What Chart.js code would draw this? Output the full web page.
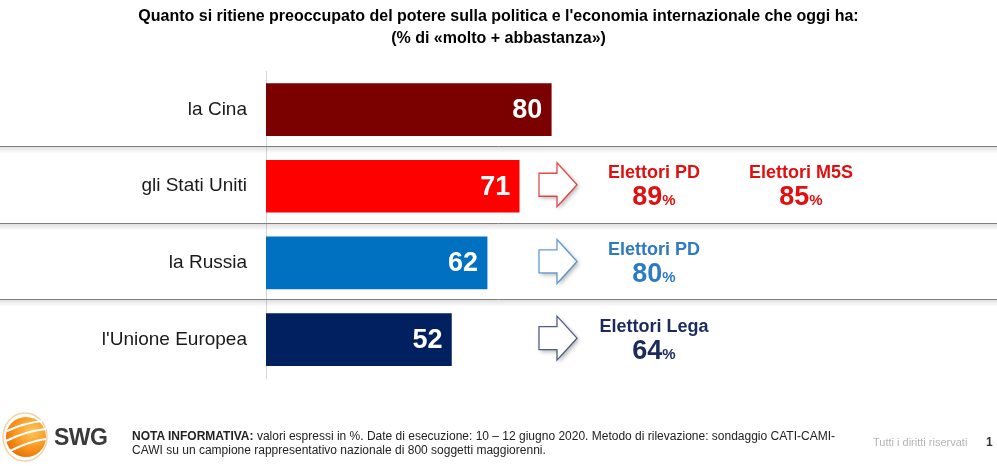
<!DOCTYPE html>
<html>
<head>
<meta charset="utf-8">
<script src="https://cdn.jsdelivr.net/npm/chart.js@4"></script>
<style>
  body { margin: 0; background: #fff; font-family: "Liberation Sans", Arial, sans-serif; }
  #wrap { position: relative; width: 997px; height: 466px; overflow: hidden; }
  #chart { position: absolute; left: 0; top: 0; }
  .note { position: absolute; left: 132px; top: 429px; font-size: 12px; line-height: 14px; color: #222; white-space: nowrap; }
  .rights { position: absolute; left: 873px; top: 436px; font-size: 11px; color: #b4b4b4; }
  .page { position: absolute; left: 986px; top: 435px; font-size: 12px; font-weight: bold; color: #333; }
  .swg { position: absolute; left: 54px; top: 424px; font-size: 23px; font-weight: bold; color: #3a3a3a; letter-spacing: -0.5px; }
  #logo { position: absolute; left: 2px; top: 411px; }
</style>
</head>
<body>
<div id="wrap">
  <canvas id="chart" width="997" height="466"></canvas>
  <svg id="logo" width="48" height="52" viewBox="0 0 48 52">
    <defs>
      <radialGradient id="g" cx="0.65" cy="0.35" r="0.75">
        <stop offset="0" stop-color="#ffc65a"/>
        <stop offset="0.6" stop-color="#f7941d"/>
        <stop offset="1" stop-color="#e86a00"/>
      </radialGradient>
    </defs>
    <ellipse cx="23" cy="26" rx="22" ry="24" fill="none" stroke="#f3d2a6" stroke-width="1.5"/>
    <circle cx="24" cy="26" r="20" fill="url(#g)"/>
    <path d="M5 20 Q22 12 40 10" stroke="#fff" stroke-width="2" fill="none"/>
    <path d="M4 30 Q24 20 44 18" stroke="#fff" stroke-width="2" fill="none"/>
    <path d="M8 40 Q28 30 44 28" stroke="#fff" stroke-width="2" fill="none"/>
  </svg>
  <div class="swg">SWG</div>
  <div class="note"><b>NOTA INFORMATIVA:</b> valori espressi in %. Date di esecuzione: 10 – 12 giugno 2020. Metodo di rilevazione: sondaggio CATI-CAMI-<br>CAWI su un campione rappresentativo nazionale di 800 soggetti maggiorenni.</div>
  <div class="rights">Tutti i diritti riservati</div>
  <div class="page">1</div>
</div>
<script>
// Dati
const categories = ['la Cina', 'gli Stati Uniti', 'la Russia', "l'Unione Europea"];
const values = [80, 71, 62, 52];
const barColors = ['#7b0000', '#ff0000', '#0070c0', '#002060'];

// Dettaglio per elettorato (frecce a destra)
const subLabels = [[], ['Elettori PD', 'Elettori M5S'], ['Elettori PD'], ['Elettori Lega']];
const subValues = [[], [89, 85], [80], [64]];
const subColors = [null, '#e01010', '#2e7bc4', '#1a2b5c'];

const titleLines = [
  "Quanto si ritiene preoccupato del potere sulla politica e l'economia internazionale che oggi ha:",
  '(% di «molto + abbastanza»)'
];

const FONT = "'Liberation Sans', Arial, sans-serif";

// separatori tra le righe, con ombra
const separators = {
  id: 'separators',
  beforeDatasetsDraw(chart) {
    const c = chart.ctx;
    const y = chart.scales.y;
    c.save();
    for (let i = 0; i < categories.length - 1; i++) {
      const yy = Math.round((y.getPixelForValue(i) + y.getPixelForValue(i + 1)) / 2 - 2) + 0.5;
      const grad = c.createLinearGradient(0, yy, 0, yy + 7);
      grad.addColorStop(0, 'rgba(0,0,0,0.13)');
      grad.addColorStop(1, 'rgba(0,0,0,0)');
      c.fillStyle = grad;
      c.fillRect(0, yy, chart.width, 7);
      c.strokeStyle = '#7f7f7f';
      c.lineWidth = 1;
      c.beginPath();
      c.moveTo(0, yy);
      c.lineTo(chart.width, yy);
      c.stroke();
    }
    c.restore();
  }
};

// valori nelle barre, frecce e dettagli per elettorato
const labels = {
  id: 'labels',
  afterDatasetsDraw(chart) {
    const c = chart.ctx;
    const meta = chart.getDatasetMeta(0);
    const left = chart.chartArea.left;
    c.save();
    meta.data.forEach((bar, i) => {
      c.fillStyle = '#fff';
      c.font = 'bold 27px ' + FONT;
      c.textAlign = 'right';
      c.textBaseline = 'middle';
      c.fillText(values[i], bar.x - 9, bar.y + 1);

      if (!subLabels[i].length) return;
      const col = subColors[i];
      // freccia
      const ax = left + 273, ay = bar.y - 1.5;
      c.beginPath();
      c.moveTo(ax, ay - 11.5);
      c.lineTo(ax + 18, ay - 11.5);
      c.lineTo(ax + 18, ay - 22);
      c.lineTo(ax + 38, ay);
      c.lineTo(ax + 18, ay + 22);
      c.lineTo(ax + 18, ay + 11.5);
      c.lineTo(ax, ay + 11.5);
      c.closePath();
      c.save();
      c.shadowColor = 'rgba(0,0,0,0.3)';
      c.shadowBlur = 4;
      c.shadowOffsetX = 2;
      c.shadowOffsetY = 2;
      c.fillStyle = '#fff';
      c.fill();
      c.restore();
      c.strokeStyle = col;
      c.globalAlpha = 0.75;
      c.lineWidth = 1.3;
      c.stroke();
      c.globalAlpha = 1;

      subLabels[i].forEach((lab, k) => {
        const cx = left + 388 + k * 147;
        c.fillStyle = col;
        c.textAlign = 'center';
        c.font = 'bold 18px ' + FONT;
        c.fillText(lab, cx, bar.y - 13);
        const num = String(subValues[i][k]);
        c.font = 'bold 27px ' + FONT;
        const wn = c.measureText(num).width;
        c.font = 'bold 15px ' + FONT;
        const wp = c.measureText('%').width;
        const x0 = cx - (wn + wp) / 2;
        c.textAlign = 'left';
        c.textBaseline = 'alphabetic';
        c.font = 'bold 27px ' + FONT;
        c.fillText(num, x0, bar.y + 19);
        c.font = 'bold 15px ' + FONT;
        c.fillText('%', x0 + wn, bar.y + 19);
        c.textBaseline = 'middle';
      });
    });
    c.restore();
  }
};

new Chart(document.getElementById('chart'), {
  type: 'bar',
  data: {
    labels: categories,
    datasets: [{
      data: values,
      backgroundColor: barColors,
      barThickness: 52,
      borderWidth: 0
    }]
  },
  options: {
    indexAxis: 'y',
    responsive: false,
    animation: false,
    layout: { padding: { left: 0, right: 0, top: 0, bottom: 88 } },
    plugins: {
      legend: { display: false },
      tooltip: { enabled: false },
      title: {
        display: true,
        text: titleLines,
        color: '#000',
        font: { family: FONT, size: 16, weight: 'bold', lineHeight: 1.35 },
        padding: { top: 6, bottom: 22 }
      }
    },
    scales: {
      // asse nascosto: il massimo tiene la stessa scala del grafico originale
      x: { display: false, min: 0, max: 205 },
      y: {
        afterFit(scale) { scale.width = 266; },
        grid: { display: false, drawTicks: false },
        border: { display: true, color: '#d4d4d4', width: 1 },
        ticks: { color: '#1a1a1a', padding: 19, font: { family: FONT, size: 19 } }
      }
    }
  },
  plugins: [separators, labels]
});
</script>
</body>
</html>
